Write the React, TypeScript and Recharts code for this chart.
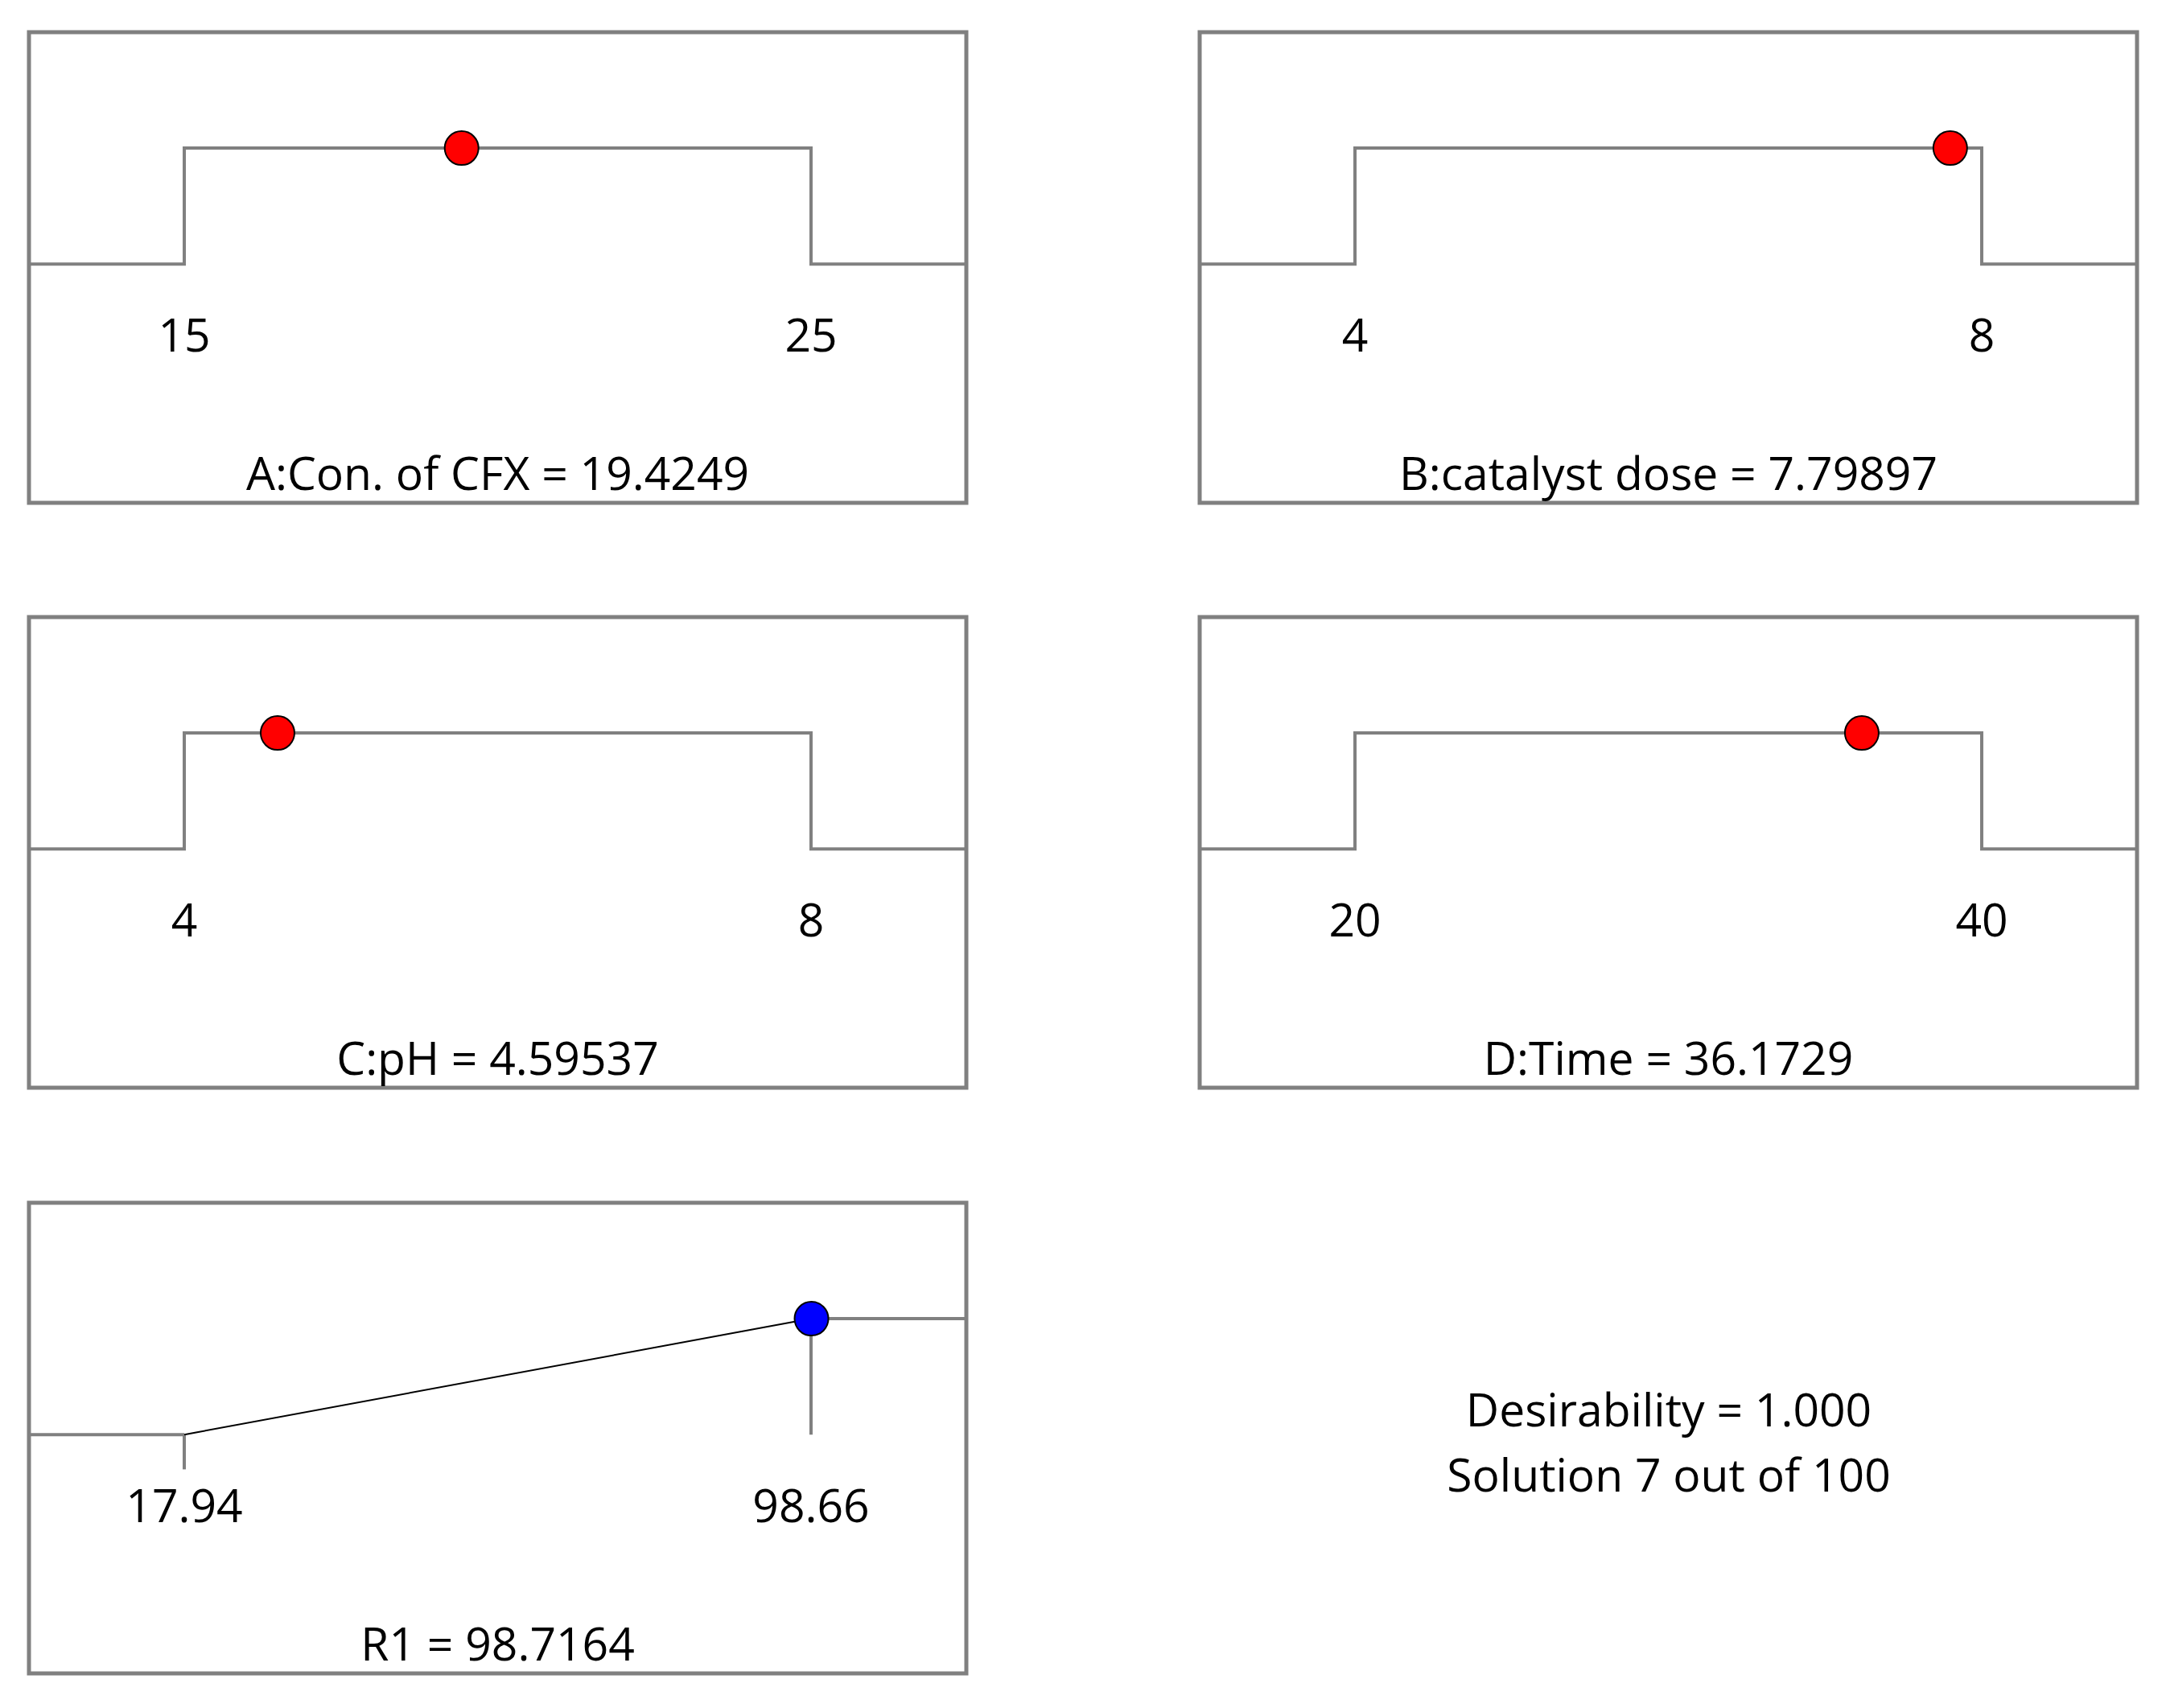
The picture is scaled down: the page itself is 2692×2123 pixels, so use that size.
import React from 'react';
import { ComposedChart, Line, XAxis, YAxis, ReferenceArea, ReferenceDot, ReferenceLine } from 'recharts';

// ---- data ----
const factorNames = ['A:Con. of CFX', 'B:catalyst dose', 'C:pH', 'D:Time'];
const factorLows = [15, 4, 4, 20];
const factorHighs = [25, 8, 8, 40];
const factorLowLabels = ['15', '4', '4', '20'];
const factorHighLabels = ['25', '8', '8', '40'];
const factorValues = [19.4249, 7.79897, 4.59537, 36.1729];
const factorValueLabels = ['19.4249', '7.79897', '4.59537', '36.1729'];

const responseName = 'R1';
const responseLow = 17.94;
const responseHigh = 98.66;
const responseLowLabel = '17.94';
const responseHighLabel = '98.66';
const responseValue = 98.7164;
const responseValueLabel = '98.7164';

const desirabilityLevels = [0, 1]; // low, high desirability
const summaryLines = ['Desirability = 1.000', 'Solution 7 out of 100'];

// ---- style/layout ----
const FONT = '"Open Sans", "Noto Sans", sans-serif';
const FS = 57;
const GRAY = '#808080';
const PLOT_W = 1165;
const PLOT_H = 585;
const M = 5;
const Y_DOMAIN: [number, number] = [-2.06, 2.0];
const LABEL_Y = -0.616;
const TITLE_Y = -1.81;
const TICK_Y = -0.3;
const COL_X = [36, 1491];
const ROW_Y = [40, 767, 1495];

function xDomain(lo: number, hi: number): [number, number] {
  const pad = 0.2478 * (hi - lo);
  return [lo - pad, hi + pad];
}

const labelStyle = (value: string) => ({
  value,
  position: 'center' as const,
  fontSize: FS,
  fill: '#000',
  fontFamily: FONT,
});

type PanelProps = {
  left: number;
  top: number;
  children?: React.ReactNode;
};

function FactorPanel({ i, left, top }: { i: number; left: number; top: number }) {
  const lo = factorLows[i];
  const hi = factorHighs[i];
  const [xmin, xmax] = xDomain(lo, hi);
  const [d0, d1] = desirabilityLevels;
  const step = [
    { x: xmin, y: d0 },
    { x: lo, y: d0 },
    { x: lo, y: d1 },
    { x: hi, y: d1 },
    { x: hi, y: d0 },
    { x: xmax, y: d0 },
  ];
  const mid = (xmin + xmax) / 2;
  return (
    <div style={{ position: 'absolute', left: left - M, top: top - M }}>
      <ComposedChart width={PLOT_W + 2 * M} height={PLOT_H + 2 * M} margin={{ top: M, right: M, bottom: M, left: M }}>
        <XAxis type="number" dataKey="x" domain={[xmin, xmax]} hide allowDataOverflow />
        <YAxis type="number" dataKey="y" domain={Y_DOMAIN} hide allowDataOverflow />
        <ReferenceArea x1={xmin} x2={xmax} y1={Y_DOMAIN[0]} y2={Y_DOMAIN[1]} fill="none" stroke={GRAY} strokeWidth={5} ifOverflow="visible" />
        <Line data={step} dataKey="y" type="linear" stroke={GRAY} strokeWidth={4} dot={false} activeDot={false} isAnimationActive={false} />
        <ReferenceDot x={lo} y={LABEL_Y} r={0} stroke="none" fill="none" label={labelStyle(factorLowLabels[i])} />
        <ReferenceDot x={hi} y={LABEL_Y} r={0} stroke="none" fill="none" label={labelStyle(factorHighLabels[i])} />
        <ReferenceDot x={mid} y={TITLE_Y} r={0} stroke="none" fill="none" label={labelStyle(`${factorNames[i]} = ${factorValueLabels[i]}`)} />
        <ReferenceDot x={factorValues[i]} y={d1} r={21} fill="#ff0000" stroke="#000" strokeWidth={2} />
      </ComposedChart>
    </div>
  );
}

function ResponsePanel({ left, top }: { left: number; top: number }) {
  const lo = responseLow;
  const hi = responseHigh;
  const [xmin, xmax] = xDomain(lo, hi);
  const [d0, d1] = desirabilityLevels;
  const leftFlat = [
    { x: xmin, y: d0 },
    { x: lo, y: d0 },
  ];
  const ramp = [
    { x: lo, y: d0 },
    { x: hi, y: d1 },
  ];
  const rightFlat = [
    { x: hi, y: d1 },
    { x: xmax, y: d1 },
  ];
  const mid = (xmin + xmax) / 2;
  return (
    <div style={{ position: 'absolute', left: left - M, top: top - M }}>
      <ComposedChart width={PLOT_W + 2 * M} height={PLOT_H + 2 * M} margin={{ top: M, right: M, bottom: M, left: M }}>
        <XAxis type="number" dataKey="x" domain={[xmin, xmax]} hide allowDataOverflow />
        <YAxis type="number" dataKey="y" domain={Y_DOMAIN} hide allowDataOverflow />
        <ReferenceArea x1={xmin} x2={xmax} y1={Y_DOMAIN[0]} y2={Y_DOMAIN[1]} fill="none" stroke={GRAY} strokeWidth={5} ifOverflow="visible" />
        <ReferenceLine segment={[{ x: lo, y: d0 }, { x: lo, y: TICK_Y }]} stroke={GRAY} strokeWidth={4} />
        <ReferenceLine segment={[{ x: hi, y: d1 }, { x: hi, y: d0 }]} stroke={GRAY} strokeWidth={4} />
        <Line data={leftFlat} dataKey="y" type="linear" stroke={GRAY} strokeWidth={4} dot={false} activeDot={false} isAnimationActive={false} />
        <Line data={rightFlat} dataKey="y" type="linear" stroke={GRAY} strokeWidth={4} dot={false} activeDot={false} isAnimationActive={false} />
        <Line data={ramp} dataKey="y" type="linear" stroke="#000" strokeWidth={2} dot={false} activeDot={false} isAnimationActive={false} />
        <ReferenceDot x={lo} y={LABEL_Y} r={0} stroke="none" fill="none" label={labelStyle(responseLowLabel)} />
        <ReferenceDot x={hi} y={LABEL_Y} r={0} stroke="none" fill="none" label={labelStyle(responseHighLabel)} />
        <ReferenceDot x={mid} y={TITLE_Y} r={0} stroke="none" fill="none" label={labelStyle(`${responseName} = ${responseValueLabel}`)} />
        <ReferenceDot x={responseValue} y={d1} r={21} fill="#0000ff" stroke="#000" strokeWidth={2} />
      </ComposedChart>
    </div>
  );
}

export default function App() {
  return (
    <div
      style={{
        position: 'absolute',
        left: 0,
        top: 0,
        width: 2692,
        height: 2123,
        background: '#fff',
        fontFamily: FONT,
        overflow: 'hidden',
      }}
    >
      <FactorPanel i={0} left={COL_X[0]} top={ROW_Y[0]} />
      <FactorPanel i={1} left={COL_X[1]} top={ROW_Y[0]} />
      <FactorPanel i={2} left={COL_X[0]} top={ROW_Y[1]} />
      <FactorPanel i={3} left={COL_X[1]} top={ROW_Y[1]} />
      <ResponsePanel left={COL_X[0]} top={ROW_Y[2]} />
      <div
        style={{
          position: 'absolute',
          left: 2074 - 500,
          width: 1000,
          top: 1711,
          textAlign: 'center',
          fontSize: FS,
          lineHeight: '81px',
          color: '#000',
        }}
      >
        {summaryLines.map((s) => (
          <div key={s}>{s}</div>
        ))}
      </div>
    </div>
  );
}
